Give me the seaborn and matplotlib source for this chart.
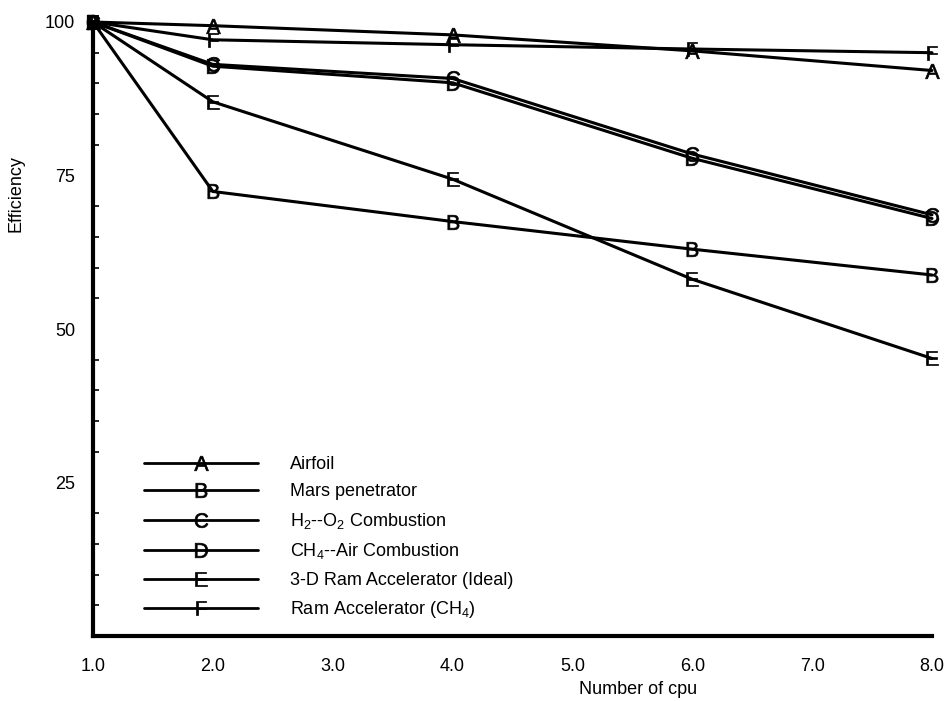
import matplotlib
matplotlib.use("Agg")
import matplotlib.pyplot as plt
import seaborn as sns
import pandas as pd

# Parallel efficiency vs. number of processors
cpu = [1, 2, 4, 6, 8]
airfoil = [100, 99.4, 97.9, 95.3, 92.1]
mars = [100, 72.4, 67.5, 63.0, 58.8]
h2_o2 = [100, 93.1, 90.8, 78.5, 68.6]
ch4_air = [100, 92.8, 90.1, 77.8, 68.0]
ram_3d = [100, 87.0, 74.4, 58.1, 45.2]
ram_ch4 = [100, 97.1, 96.3, 95.6, 95.0]

labels = [
    "Airfoil",
    "Mars penetrator",
    r"H$_2$--O$_2$ Combustion",
    r"CH$_4$--Air Combustion",
    "3-D Ram Accelerator (Ideal)",
    r"Ram Accelerator (CH$_4$)",
]
letters = ["A", "B", "C", "D", "E", "F"]
series = [airfoil, mars, h2_o2, ch4_air, ram_3d, ram_ch4]

rows = []
for lab, vals in zip(labels, series):
    for c, v in zip(cpu, vals):
        rows.append({"cpu": c, "eff": v, "case": lab})
df = pd.DataFrame(rows)

sns.set_theme(style="white")
plt.rcParams["font.family"] = ["Liberation Sans", "DejaVu Sans"]
plt.rcParams["mathtext.fontset"] = "custom"
plt.rcParams["mathtext.rm"] = "Liberation Sans"
plt.rcParams["mathtext.sf"] = "Liberation Sans"
plt.rcParams["mathtext.it"] = "Liberation Sans"
plt.rcParams["text.color"] = "black"
plt.rcParams["axes.labelcolor"] = "black"
plt.rcParams["xtick.color"] = "black"
plt.rcParams["ytick.color"] = "black"

fig = plt.figure(figsize=(9.52, 7.01), dpi=100)
ax = fig.add_axes([93 / 952, 1 - 636 / 701, (932 - 93) / 952, 614 / 701])

markers = {lab: r"$\mathsf{%s}$" % L for lab, L in zip(labels, letters)}
sns.lineplot(
    data=df, x="cpu", y="eff", hue="case", style="case",
    hue_order=labels, style_order=labels,
    palette=["black"] * 6, markers=markers, dashes=False,
    markersize=10.5, linewidth=2.2, markeredgewidth=0.5,
    markeredgecolor="black", markerfacecolor="black",
    ax=ax, clip_on=False,
)

ax.set_xlim(1, 8)
ax.set_ylim(0, 100)
ax.set_xticks(range(1, 9))
ax.set_xticklabels([f"{v:.1f}" for v in range(1, 9)])
ax.set_yticks([25, 50, 75, 100])
ax.set_yticks(range(5, 100, 5), minor=True)

for s in ["top", "right"]:
    ax.spines[s].set_visible(False)
for s in ["left", "bottom"]:
    ax.spines[s].set_linewidth(3)
    ax.spines[s].set_color("black")

ax.tick_params(axis="both", which="major", direction="in", length=7, width=1.5,
               labelsize=13, colors="black")
ax.tick_params(axis="y", which="minor", direction="in", length=4, width=1.2,
               left=True, colors="black")
ax.tick_params(axis="x", which="major", length=5, pad=16)
ax.tick_params(axis="y", which="major", pad=13)

ax.set_xlabel("Number of cpu", fontsize=13, color="black")
ax.set_ylabel("Efficiency", fontsize=13, color="black")
ax.xaxis.set_label_coords(0.65, -0.073)
ax.yaxis.set_label_coords(-0.082, 0.72)

leg = ax.legend(
    loc="upper left", bbox_to_anchor=(0.052, 0.305), frameon=False,
    handlelength=6.3, handletextpad=1.8, labelspacing=0.58, fontsize=13,
    borderaxespad=0,
)
for line in leg.get_lines():
    line.set_linewidth(2.0)
    line.set_markeredgecolor("black")
    line.set_markerfacecolor("black")
for t in leg.get_texts():
    t.set_color("black")

fig.savefig("out.png", dpi=100)
